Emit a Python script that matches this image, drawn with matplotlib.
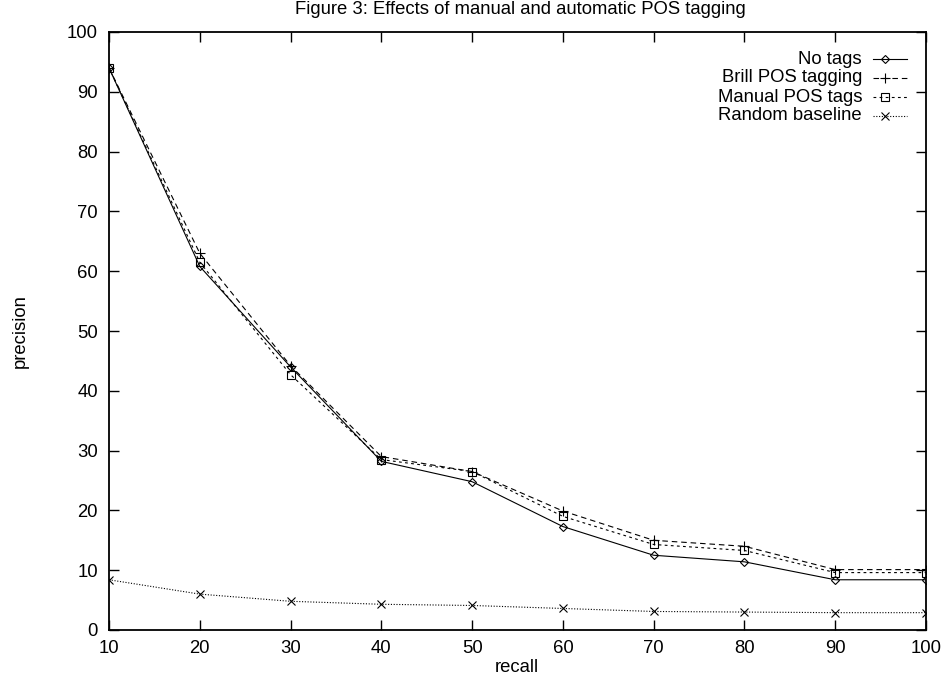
import matplotlib
matplotlib.use("Agg")
import matplotlib.pyplot as plt

plt.rcParams['font.family'] = ['Liberation Sans', 'DejaVu Sans']

recall = [10, 20, 30, 40, 50, 60, 70, 80, 90, 100]
no_tags = [94.0, 60.8, 44.0, 28.2, 24.8, 17.3, 12.5, 11.4, 8.4, 8.4]
brill_tags = [94.0, 63.0, 44.2, 29.0, 26.5, 19.9, 15.0, 14.0, 10.1, 10.1]
manual_tags = [94.0, 61.5, 42.7, 28.5, 26.5, 19.0, 14.3, 13.3, 9.6, 9.6]
random_base = [8.4, 6.0, 4.8, 4.3, 4.1, 3.6, 3.1, 3.0, 2.9, 2.9]

series = [
    ("No tags", no_tags, "-", "D", 4),
    ("Brill POS tagging", brill_tags, (0, (5, 3.5)), "+", 6.5),
    ("Manual POS tags", manual_tags, (0, (2.5, 3)), "s", 5.5),
    ("Random baseline", random_base, (0, (1, 1.5)), "x", 5.5),
]

fs = 13.3
lw = 0.8

fig = plt.figure(figsize=(9.43, 6.77), dpi=100)
ax = fig.add_axes([109 / 943, 1 - 630 / 677, (926 - 109) / 943, (630 - 32) / 677])

for name, vals, ls, mk, ms in series:
    ax.plot(recall, vals, color="black", linestyle=ls, linewidth=lw,
            marker=mk, markersize=ms, markerfacecolor="none",
            markeredgecolor="black", markeredgewidth=lw)

ax.set_xlim(10, 100)
ax.set_ylim(0, 100)
ax.set_xticks(recall)
ax.set_yticks(range(0, 101, 10))
ax.tick_params(direction="in", length=7, width=1, top=True, right=True,
               labelsize=fs)
ax.tick_params(axis="x", pad=7)
ax.tick_params(axis="y", pad=8)
for sp in ax.spines.values():
    sp.set_linewidth(1.3)

fig.text(517 / 943, 1 - 668 / 677, "recall", fontsize=fs, ha="center", va="center")
fig.text(20 / 943, 1 - 331 / 677, "precision", rotation=90, fontsize=fs,
         ha="center", va="center")
fig.text(520 / 943, 1 - 10 / 677, "Figure 3: Effects of manual and automatic POS tagging",
         fontsize=fs, ha="center", va="center")

# legend, gnuplot style: text right-aligned, sample on the right
row_y = [59, 78, 97, 116]
for (name, vals, ls, mk, ms), py in zip(series, row_y):
    yf = 1 - py / 677
    fig.text(862 / 943, yf, name, fontsize=fs, ha="right", va="center")
    fig.add_artist(plt.Line2D([873 / 943, 907 / 943], [yf, yf], color="black",
                              linestyle=ls, linewidth=lw))
    fig.add_artist(plt.Line2D([885 / 943], [yf], marker=mk, markersize=ms,
                              markerfacecolor="none", markeredgecolor="black",
                              markeredgewidth=lw, linestyle="none"))

fig.savefig("out.png", dpi=100)
